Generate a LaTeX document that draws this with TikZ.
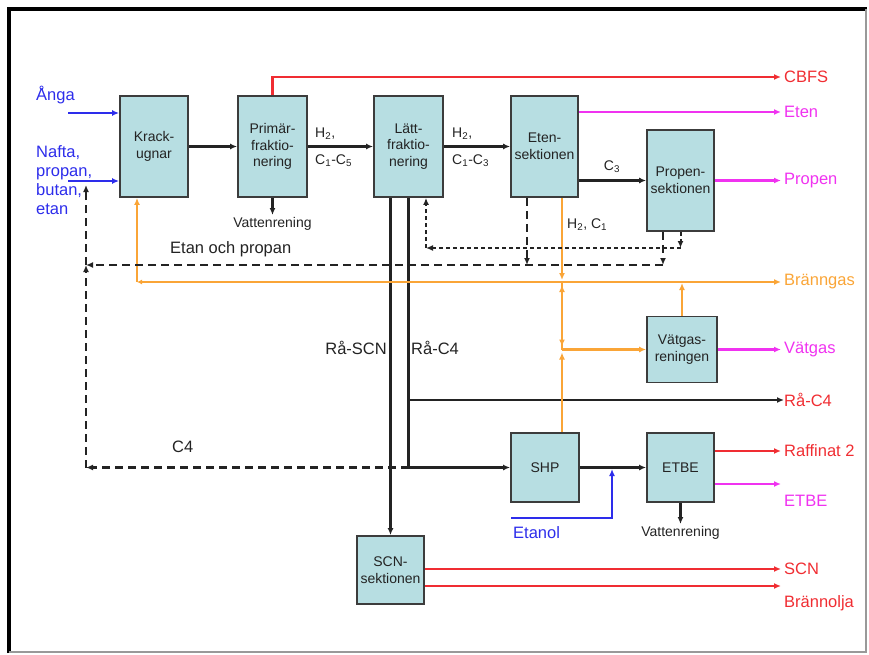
\documentclass[tikz,border=0pt]{standalone}
\usepackage{fontspec}
\setmainfont{Liberation Sans}
\usetikzlibrary{arrows.meta}
\definecolor{boxfill}{RGB}{183,222,226}
\definecolor{boxline}{RGB}{60,60,60}
\definecolor{fblue}{RGB}{45,45,235}
\definecolor{fred}{RGB}{240,45,50}
\definecolor{fmag}{RGB}{240,50,240}
\definecolor{forange}{RGB}{250,165,55}
\definecolor{fgray}{RGB}{35,35,35}
\begin{document}
\begin{tikzpicture}[x=1pt,y=-1pt,
  proc/.style={draw=boxline,line width=1.8pt,fill=boxfill,inner sep=0pt,align=center,
    font=\fontsize{14}{16.5}\selectfont,text=fgray},
  lab/.style={inner sep=0pt,font=\fontsize{16.5}{19}\selectfont},
  slab/.style={inner sep=0pt,font=\fontsize{14}{16}\selectfont,text=fgray},
  tip/.style={-{Latex[length=7pt,width=6pt]}},
  flow/.style={line width=2.2pt,tip},
  dashline/.style={line width=2.2pt,fgray,dash pattern=on 8pt off 5pt},
  dotline/.style={line width=2pt,fgray,dash pattern=on 4pt off 3pt},
]
\useasboundingbox (0,0) rectangle (869,655);
% frame
\draw[line width=4.5pt,black] (9,653) -- (9,9) -- (867,9);
\draw[line width=1.5pt,black!40] (866,9) -- (866,652) -- (9,652);

% process boxes
\node[proc,minimum width=68pt,minimum height=101pt] (krack) at (154,146.5) {Krack-\\ugnar};
\node[proc,minimum width=69pt,minimum height=101pt] (prim) at (272.5,146.5) {Primär-\\fraktio-\\nering};
\node[proc,minimum width=69pt,minimum height=101pt] (latt) at (408.5,146.5) {Lätt-\\fraktio-\\nering};
\node[proc,minimum width=67pt,minimum height=101pt] (eten) at (544.5,146.5) {Eten-\\sektionen};
\node[proc,minimum width=67pt,minimum height=101pt] (propen) at (680.5,180.5) {Propen-\\sektionen};
\node[proc,minimum width=70pt,minimum height=66pt] (vatgas) at (682,349.5) {Vätgas-\\reningen};
\node[proc,minimum width=68pt,minimum height=69pt] (shp) at (545,467.5) {SHP};
\node[proc,minimum width=67pt,minimum height=69pt] (etbe) at (680.5,467.5) {ETBE};
\node[proc,minimum width=67pt,minimum height=68pt] (scn) at (390.5,570) {SCN-\\sektionen};

% left inputs
\node[lab,text=fblue,anchor=west] (anga) at (36,95) {Ånga};
\node[lab,text=fblue,anchor=west,align=left] (nafta) at (36,180) {Nafta,\\propan,\\butan,\\etan};
\coordinate (angaS) at (68,113);
\coordinate (naftaS) at (68,181);
\draw[flow,fblue] (angaS) -- (krack.west |- angaS);
\draw[flow,fblue] (naftaS) -- (krack.west |- naftaS);

% outputs labels
\node[lab,text=fred,anchor=west] (cbfs) at (784,77) {CBFS};
\node[lab,text=fmag,anchor=west] (etenout) at (784,112) {Eten};
\node[lab,text=fmag,anchor=west] (propout) at (784,180.5) {Propen};
\node[lab,text=forange,anchor=west] (brang) at (784,282) {Bränngas};
\node[lab,text=fmag,anchor=west] (vatout) at (784,349.5) {Vätgas};
\node[lab,text=fred,anchor=west] (rc4out) at (784,400) {Rå-C4};
\node[lab,text=fred,anchor=west] (raff) at (784,451) {Raffinat 2};
\node[lab,text=fmag,anchor=west] (etbeout) at (784,501) {ETBE};
\node[lab,text=fred,anchor=west] (scnout) at (784,569) {SCN};
\node[lab,text=fred,anchor=west] (bolja) at (784,603) {Brännolja};
\coordinate (etbeT) at (781,484);
\coordinate (boljaT) at (781,586);

% other labels
\node[slab,anchor=north] (vr1) at (272.5,217) {Vattenrening};
\node[slab,anchor=north] (vr2) at (680.5,526) {Vattenrening};
\node[slab,anchor=west] (h2a) at (315,134) {H\textsubscript{2},};
\node[slab,anchor=west] (c15) at (315,161) {C\textsubscript{1}-C\textsubscript{5}};
\node[slab,anchor=west] (h2b) at (452,134) {H\textsubscript{2},};
\node[slab,anchor=west] (c13) at (452,161) {C\textsubscript{1}-C\textsubscript{3}};
\node[slab] (c3) at (612,167) {C\textsubscript{3}};
\node[slab,anchor=west] (h2c1) at (567,225) {H\textsubscript{2}, C\textsubscript{1}};
\node[lab,text=fgray,anchor=west] (etprop) at (170,249) {Etan och propan};
\node[lab,text=fgray,anchor=west] (c4lab) at (172,447) {C4};
\node[lab,text=fgray,anchor=east] (rascn) at (387,348) {Rå-SCN};
\node[lab,text=fgray,anchor=west] (rac4) at (411,348) {Rå-C4};
\node[lab,text=fblue,anchor=west] (etanol) at (513,533) {Etanol};

% main black flows
\draw[flow,fgray] (krack.east) -- (prim.west);
\draw[flow,fgray] (prim.east) -- (latt.west);
\draw[flow,fgray] (latt.east) -- (eten.west);
\draw[flow,fgray] (eten.east |- propen) -- (propen.west);
\draw[flow,fgray,shorten >=2pt] (prim.south) -- (vr1.north);
\draw[flow,fgray,shorten >=2pt] (etbe.south) -- (vr2.north);
\draw[flow,fgray] (latt.south) |- (shp.west);
\draw[flow,fgray] (latt.south |- rc4out) -- (rc4out.west);
\draw[flow,fgray] (latt.south -| scn) -- (scn.north);
\draw[flow,fgray] (shp.east) -- (etbe.west);

% coloured outputs
\draw[flow,fred,shorten >=3pt] (prim.north) |- (cbfs.west);
\draw[flow,fmag,shorten >=3pt] (eten.east |- etenout) -- (etenout.west);
\draw[flow,fmag,shorten >=3pt] (propen.east) -- (propout.west);
\draw[flow,fmag,shorten >=3pt] (vatgas.east) -- (vatout.west);
\draw[flow,fred,shorten >=3pt] (etbe.east |- raff) -- (raff.west);
\draw[flow,fmag] (etbe.east |- etbeT) -- (etbeT);
\draw[flow,fred,shorten >=3pt] (scn.east |- scnout) -- (scnout.west);
\draw[flow,fred] (scn.east |- boljaT) -- (boljaT);

% ethanol
\coordinate (etS) at (511,518);
\coordinate (etJ) at (612,467.5);
\draw[flow,fblue,shorten >=1.5pt] (etS) -| (etJ);

% orange fuel gas
\coordinate (bl) at (137,282);
\coordinate (hjA) at (562,282);
\coordinate (hjB) at (562,349.5);
\draw[line width=2.2pt,forange,{Latex[length=5pt,width=5pt]}-{Latex[length=7pt,width=6pt]},shorten >=3pt] (bl) -- (brang.west);
\draw[flow,forange] (bl) -- (krack.south -| bl);
\draw[flow,forange,shorten >=2pt] (eten.south -| hjA) -- (hjA);
\draw[flow,forange,shorten >=3pt] (hjA) -- (hjB);
\draw[flow,forange,shorten >=3pt] (shp.north -| hjB) -- (hjB);
\draw[flow,forange,shorten >=3pt] (hjB) -- (hjA);
\draw[flow,forange] (hjB) -- (vatgas.west |- hjB);
\draw[flow,forange,shorten >=1pt] (vatgas.north) -- (vatgas.north |- hjA);

% dashed recycle lines
\coordinate (dL) at (86,265);
\coordinate (pcA) at (663,265);
\coordinate (ecA) at (527,265);
\coordinate (c4L) at (86,467.5);
\coordinate (naftaJ) at (86,185);
\coordinate (pcB) at (680.5,248);
\coordinate (lcB) at (426,248);
\draw[dashline,tip] ([xshift=-17.5pt]propen.south) -- (pcA);
\draw[dashline,tip] (pcA) -- (dL);
\draw[dashline,tip] ([xshift=-17.5pt]eten.south) -- (ecA);
\draw[dashline,tip] (latt.south |- shp.west) -- (c4L);
\draw[dashline,tip] (c4L) -- (dL);
\draw[dashline,tip] (dL) -- (naftaJ);
\draw[dotline,tip] (propen.south) -- (pcB);
\draw[dotline,tip] (pcB) -- (lcB);
\draw[dotline,tip] (lcB) -- ([xshift=17.5pt]latt.south);
\end{tikzpicture}
\end{document}
